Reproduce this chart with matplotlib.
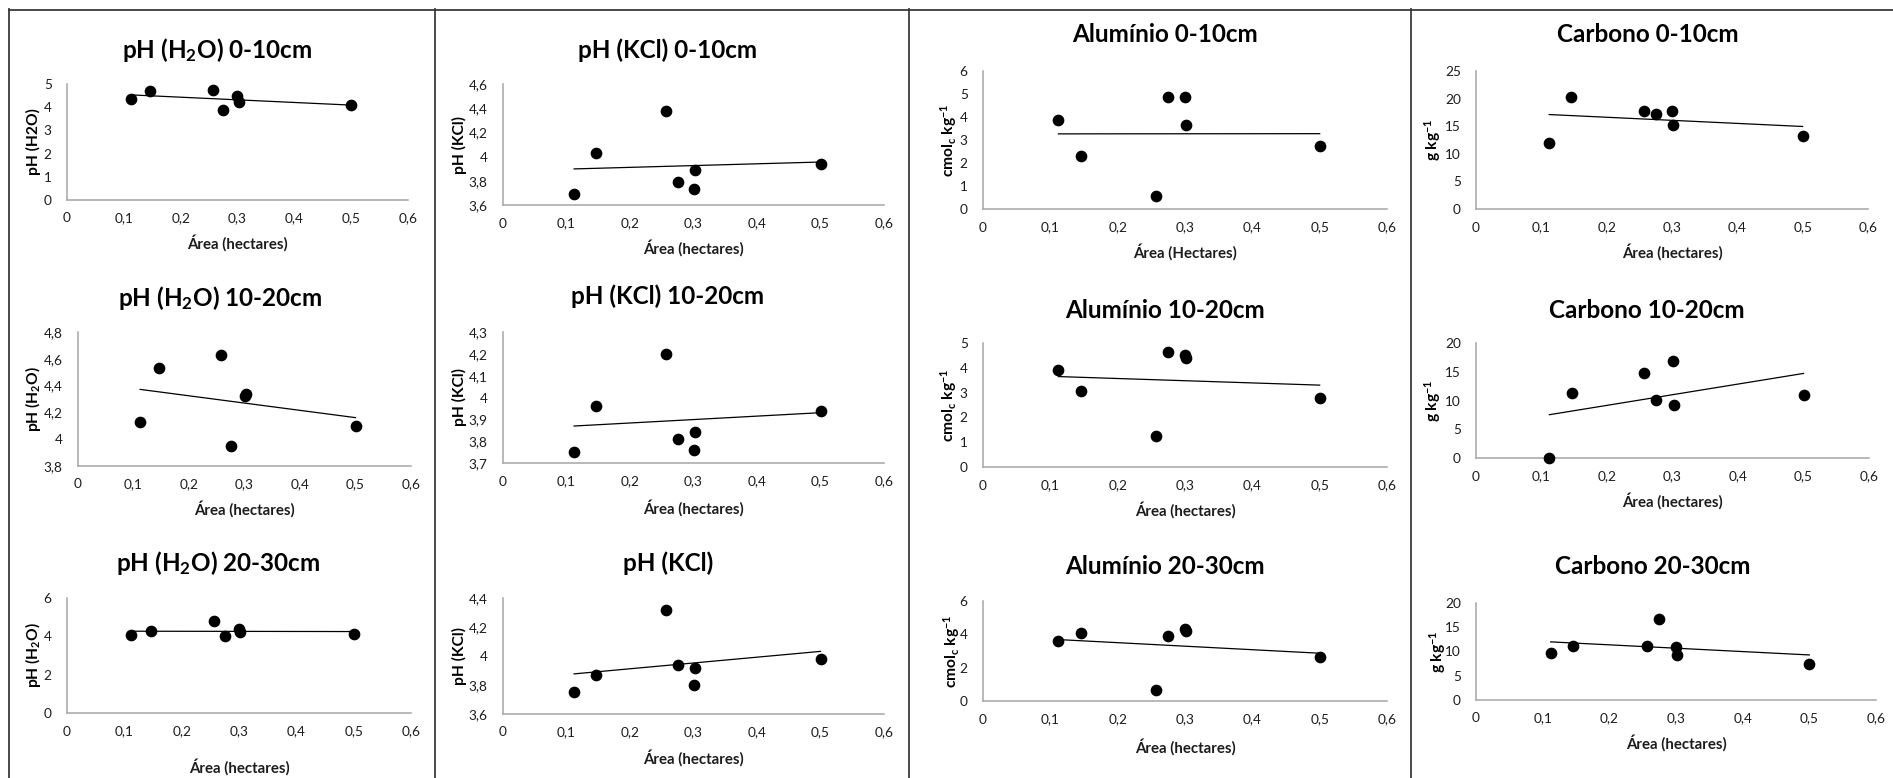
import matplotlib
matplotlib.use("Agg")
import matplotlib.pyplot as plt
import numpy as np
from matplotlib.lines import Line2D
from matplotlib.ticker import FuncFormatter

plt.rcParams['font.family'] = ['Lato', 'DejaVu Sans']
plt.rcParams['mathtext.fontset'] = 'custom'
plt.rcParams['mathtext.rm'] = 'Lato'
plt.rcParams['mathtext.bf'] = 'Lato:bold'
plt.rcParams['mathtext.default'] = 'regular'

W, H = 1893, 778

# ---------------- data ----------------
area = [0.112, 0.146, 0.257, 0.275, 0.300, 0.302, 0.500]
x_ticks = [0, 0.1, 0.2, 0.3, 0.4, 0.5, 0.6]

ph_h2o_0_10 = [4.35, 4.71, 4.75, 3.86, 4.47, 4.21, 4.11]
ph_kcl_0_10 = [3.69, 4.03, 4.38, 3.79, 3.73, 3.89, 3.94]
al_0_10 = [3.89, 2.30, 0.56, 4.87, 4.87, 3.67, 2.73]
c_0_10 = [12.0, 20.3, 17.8, 17.2, 17.8, 15.3, 13.2]

ph_h2o_10_20 = [4.13, 4.53, 4.63, 3.95, 4.32, 4.34, 4.10]
ph_kcl_10_20 = [3.75, 3.96, 4.20, 3.81, 3.76, 3.84, 3.94]
al_10_20 = [3.92, 3.05, 1.27, 4.62, 4.53, 4.38, 2.77]
c_10_20 = [0.0, 11.3, 14.8, 10.1, 16.8, 9.2, 11.0]

ph_h2o_20_30 = [4.05, 4.26, 4.78, 4.00, 4.38, 4.23, 4.12]
ph_kcl_20_30 = [3.75, 3.87, 4.32, 3.94, 3.80, 3.92, 3.98]
al_20_30 = [3.61, 4.10, 0.68, 3.90, 4.30, 4.22, 2.65]
c_20_30 = [9.7, 11.1, 11.1, 16.6, 11.0, 9.3, 7.4]

titles = [
    r'pH (H$_2$O) 0-10cm', 'pH (KCl) 0-10cm', 'Alumínio 0-10cm', 'Carbono 0-10cm',
    r'pH (H$_2$O) 10-20cm', 'pH (KCl) 10-20cm', 'Alumínio 10-20cm', 'Carbono 10-20cm',
    r'pH (H$_2$O) 20-30cm', 'pH (KCl)', 'Alumínio 20-30cm', 'Carbono 20-30cm',
]
ylabels = [
    'pH (H2O)', 'pH (KCl)', r'cmol$_c$ kg$^{-1}$', r'g kg$^{-1}$',
    r'pH (H$_2$O)', 'pH (KCl)', r'cmol$_c$ kg$^{-1}$', r'g kg$^{-1}$',
    r'pH (H$_2$O)', 'pH (KCl)', r'cmol$_c$ kg$^{-1}$', r'g kg$^{-1}$',
]
xlabels = [
    'Área (hectares)', 'Área (hectares)', 'Área (Hectares)', 'Área (hectares)',
    'Área (hectares)', 'Área (hectares)', 'Área (hectares)', 'Área (hectares)',
    'Área (hectares)', 'Área (hectares)', 'Área (hectares)', 'Área (hectares)',
]
series = [ph_h2o_0_10, ph_kcl_0_10, al_0_10, c_0_10,
          ph_h2o_10_20, ph_kcl_10_20, al_10_20, c_10_20,
          ph_h2o_20_30, ph_kcl_20_30, al_20_30, c_20_30]
y_ticks = [
    [0, 1, 2, 3, 4, 5], [3.6, 3.8, 4.0, 4.2, 4.4, 4.6], [0, 1, 2, 3, 4, 5, 6], [0, 5, 10, 15, 20, 25],
    [3.8, 4.0, 4.2, 4.4, 4.6, 4.8], [3.7, 3.8, 3.9, 4.0, 4.1, 4.2, 4.3], [0, 1, 2, 3, 4, 5], [0, 5, 10, 15, 20],
    [0, 2, 4, 6], [3.6, 3.8, 4.0, 4.2, 4.4], [0, 2, 4, 6], [0, 5, 10, 15, 20],
]

# ---------------- layout (pixels) ----------------
# left, right, y(pixel) of ymin, y(pixel) of ymax
boxes = [
    (67, 408, 200, 84), (503, 884, 205, 84), (983, 1387, 209, 71), (1476, 1868, 209, 71),
    (78, 411, 466, 332), (503, 884, 463, 332), (983, 1387, 467, 343), (1476, 1869, 458, 343),
    (67, 411, 713, 598), (503, 884, 714, 598), (983, 1387, 701, 601), (1476, 1876, 700, 603),
]
title_pos = [(217, 50), (668, 50), (1165, 35), (1648, 35),
             (220, 298), (668, 296), (1165, 310), (1647, 310),
             (218, 563), (668, 563), (1165, 567), (1653, 567)]
xlabel_y = [243, 248, 252, 252, 509, 508, 510, 501, 767, 758, 747, 743]
ylabel_x = [33, 459, 949, 1433, 33, 459, 949, 1433, 33, 459, 952, 1438]

fig = plt.figure(figsize=(W / 100, H / 100), dpi=100)

def fmt(v, pos):
    s = ('%.2f' % v).rstrip('0').rstrip('.')
    return s.replace('.', ',')

tick_color = '#1c1c1c'
axis_color = '#a6a6a6'

for i in range(12):
    l, r, yb, yt = boxes[i]
    ax = fig.add_axes([l / W, 1 - yb / H, (r - l) / W, (yb - yt) / H])
    ax.set_xlim(0, 0.6)
    ax.set_ylim(y_ticks[i][0], y_ticks[i][-1])
    ax.set_xticks(x_ticks)
    ax.set_yticks(y_ticks[i])
    ax.xaxis.set_major_formatter(FuncFormatter(fmt))
    ax.yaxis.set_major_formatter(FuncFormatter(fmt))
    for s in ['top', 'right']:
        ax.spines[s].set_visible(False)
    for s in ['left', 'bottom']:
        ax.spines[s].set_color(axis_color)
        ax.spines[s].set_linewidth(1.1)
    ax.tick_params(axis='both', length=0, labelsize=9.8, colors=tick_color)
    ax.tick_params(axis='x', pad=9)
    ax.tick_params(axis='y', pad=11)
    ax.patch.set_visible(False)

    y = np.array(series[i])
    x = np.array(area)
    m, b = np.polyfit(x, y, 1)
    xs = np.array([x.min(), x.max()])
    ax.plot(xs, m * xs + b, color='black', lw=0.9, zorder=2)
    ax.plot(x, y, 'o', color='black', markersize=7.4, zorder=3, clip_on=False)

    tx, ty = title_pos[i]
    fig.text(tx / W, 1 - ty / H, titles[i], ha='center', va='center',
             fontsize=17.5, fontweight='bold', color='black')
    fig.text((l + r) / 2 / W, 1 - xlabel_y[i] / H, xlabels[i], ha='center', va='center',
             fontsize=10.8, fontweight='bold', color='#1c1c1c')
    fig.text(ylabel_x[i] / W, 1 - (yb + yt) / 2 / H, ylabels[i], ha='center', va='center',
             rotation=90, fontsize=11.2, fontweight='bold', color='black')

# ---------------- panel borders ----------------
bc = '#3a3a3a'
def hline(y, x0, x1):
    fig.add_artist(Line2D([x0 / W, x1 / W], [1 - y / H, 1 - y / H], color=bc, lw=1.3))
def vline(x, y0, y1):
    fig.add_artist(Line2D([x / W, x / W], [1 - y0 / H, 1 - y1 / H], color=bc, lw=1.3))

hline(9.5, 9, W)
for xv in [9, 435, 909, 1411]:
    vline(xv, 9, H)

fig.savefig('out.png', dpi=100)
